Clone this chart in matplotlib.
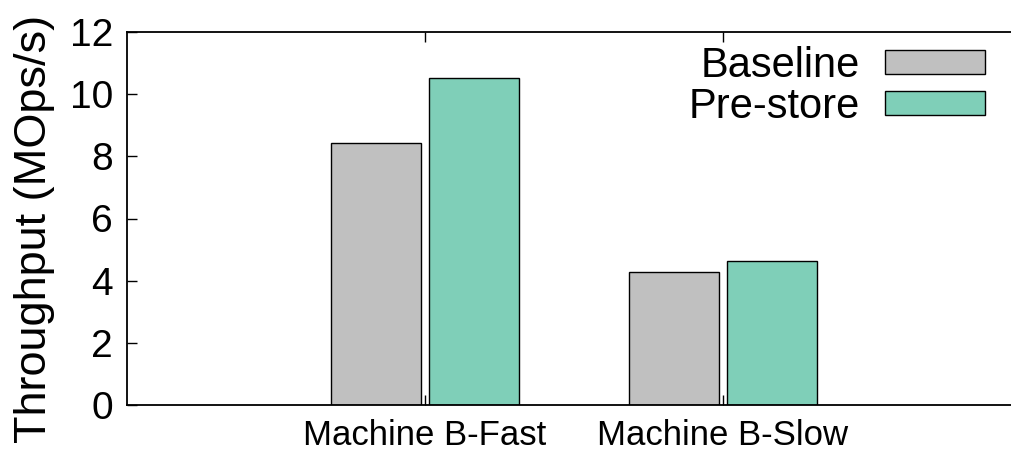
import matplotlib

matplotlib.use("Agg")
import matplotlib.pyplot as plt
import numpy as np

machines = ["Machine B-Fast", "Machine B-Slow"]
baseline = [8.42, 4.29]
prestore = [10.51, 4.64]
series_names = ["Baseline", "Pre-store"]
yticks = [0, 2, 4, 6, 8, 10, 12]

plt.rcParams["font.family"] = ["Liberation Sans", "DejaVu Sans"]

W, H = 1011, 451
fig = plt.figure(figsize=(W / 100, H / 100), dpi=100)
ax = fig.add_axes([127 / W, 1 - 405 / H, (W - 127) / W, (405 - 32) / H])

x = np.arange(len(machines))
width = 0.3
offset = 0.165
ax.bar(x - offset, baseline, width, color="#c0c0c0", edgecolor="black",
       linewidth=1.0, label=series_names[0])
ax.bar(x + offset, prestore, width, color="#7fcfb8", edgecolor="black",
       linewidth=1.0, label=series_names[1])

ax.set_xlim(-1, -1 + (W - 127) / 298)
ax.set_ylim(0, 12)
ax.set_yticks(yticks)
ax.set_xticks(x)
ax.set_xticklabels(machines, fontsize=25)
ax.tick_params(axis="y", labelsize=28, direction="in", length=7, width=1, pad=10)
ax.tick_params(axis="x", direction="in", length=7, width=1, pad=10,
               top=True)
ax.spines["right"].set_visible(False)
for s in ["left", "top", "bottom"]:
    ax.spines[s].set_linewidth(1.3)

# y label placed by hand: gnuplot puts it a bit below the axes centre
fig.text(35 / W, 1 - 229 / H, "Throughput (MOps/s)", fontsize=32.5,
         rotation=90, ha="center", va="center")

ax.legend(loc="upper right", bbox_to_anchor=(985 / W, 1 - 46 / H),
          bbox_transform=fig.transFigure, frameon=False, markerfirst=False,
          fontsize=30, handlelength=2.4, handleheight=0.5, handletextpad=0.6,
          labelspacing=0.02, borderaxespad=0, borderpad=0)

fig.savefig("out.png", dpi=100)
